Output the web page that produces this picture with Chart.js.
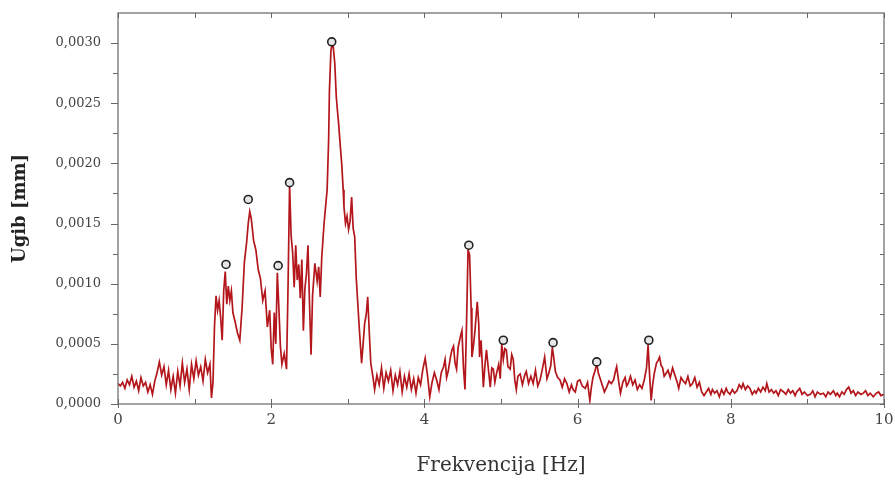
<!DOCTYPE html>
<html>
<head>
<meta charset="utf-8">
<script src="https://cdn.jsdelivr.net/npm/chart.js@4"></script>
<style>
  html, body { margin: 0; padding: 0; background: #fff; overflow: hidden; }
  canvas { display: block; }
</style>
</head>
<body>
<canvas id="js--chart" width="895" height="481"></canvas>
<script>
// frequency [Hz] and deflection (x 1e-4 mm)
const freqHz = [
  0.00,0.03,0.06,0.09,0.12,0.15,0.18,0.21,0.24,0.27,0.30,0.33,0.36,0.39,0.42,0.45,0.48,0.51,0.54,0.57,
  0.60,0.63,0.66,0.69,0.72,0.75,0.78,0.81,0.84,0.87,0.90,0.93,0.96,0.99,1.02,1.05,1.08,1.11,1.14,1.17,
  1.20,1.22,1.24,1.26,1.28,1.30,1.32,1.34,1.36,1.38,1.40,1.42,1.44,1.46,1.48,1.50,1.53,1.56,1.59,1.62,
  1.65,1.68,1.70,1.72,1.74,1.77,1.80,1.83,1.86,1.89,1.92,1.95,1.98,2.00,2.02,2.04,2.06,2.08,2.10,2.12,
  2.14,2.17,2.20,2.22,2.24,2.26,2.28,2.30,2.32,2.34,2.36,2.38,2.40,2.42,2.44,2.46,2.48,2.50,2.52,2.54,
  2.57,2.60,2.62,2.64,2.66,2.69,2.71,2.73,2.75,2.76,2.78,2.80,2.81,2.83,2.85,2.87,2.88,2.90,2.92,2.94,
  2.95,2.97,2.99,3.01,3.03,3.05,3.07,3.09,3.11,3.13,3.15,3.18,3.20,3.22,3.24,3.26,3.28,3.30,3.33,3.35,
  3.38,3.41,3.44,3.47,3.50,3.53,3.56,3.59,3.62,3.65,3.68,3.71,3.74,3.77,3.80,3.83,3.86,3.89,3.92,3.95,
  3.98,4.01,4.04,4.07,4.10,4.13,4.16,4.19,4.22,4.25,4.27,4.29,4.31,4.34,4.36,4.38,4.40,4.42,4.44,4.47,
  4.49,4.51,4.53,4.55,4.57,4.59,4.61,4.62,4.64,4.66,4.69,4.71,4.72,4.74,4.77,4.79,4.81,4.84,4.86,4.88,
  4.90,4.92,4.94,4.97,4.99,5.01,5.03,5.05,5.07,5.09,5.12,5.14,5.16,5.18,5.20,5.22,5.25,5.28,5.31,5.33,
  5.36,5.39,5.42,5.45,5.48,5.51,5.54,5.57,5.60,5.62,5.65,5.67,5.69,5.71,5.74,5.77,5.80,5.83,5.86,5.89,
  5.92,5.94,5.97,6.00,6.03,6.06,6.10,6.13,6.16,6.18,6.20,6.23,6.25,6.27,6.29,6.32,6.35,6.38,6.41,6.44,
  6.47,6.49,6.51,6.54,6.56,6.59,6.62,6.64,6.66,6.69,6.72,6.75,6.78,6.81,6.84,6.87,6.90,6.92,6.94,6.96,
  6.98,7.00,7.03,7.05,7.07,7.09,7.11,7.13,7.15,7.18,7.21,7.24,7.27,7.30,7.32,7.35,7.38,7.41,7.44,7.47,
  7.50,7.53,7.56,7.59,7.62,7.65,7.68,7.71,7.74,7.76,7.79,7.82,7.85,7.88,7.91,7.94,7.96,7.99,8.02,8.05,
  8.08,8.11,8.14,8.16,8.19,8.22,8.25,8.28,8.31,8.33,8.36,8.39,8.42,8.45,8.47,8.50,8.53,8.56,8.59,8.62,
  8.65,8.69,8.72,8.75,8.78,8.81,8.84,8.86,8.90,8.93,8.96,9.00,9.04,9.07,9.10,9.13,9.17,9.21,9.24,9.27,
  9.30,9.34,9.37,9.39,9.42,9.45,9.48,9.51,9.54,9.57,9.60,9.63,9.66,9.70,9.73,9.76,9.79,9.82,9.86,9.90,
  9.93,9.96,10.00
];
const ugibE4 = [
  1.7,1.5,1.8,1.3,2.0,1.6,2.3,1.4,1.9,1.1,2.2,1.5,1.8,1.0,1.6,0.8,1.9,2.6,3.5,2.4,
  3.1,1.6,2.8,1.2,2.3,0.9,2.7,1.5,3.4,1.8,2.9,1.2,3.3,2.1,3.6,2.4,3.1,1.9,3.7,2.6,
  3.3,0.5,1.8,6.5,9.0,7.8,8.6,7.2,5.3,9.4,11.0,8.3,9.8,8.6,9.4,7.6,6.8,5.9,5.3,8.0,
  11.8,13.5,15.0,16.0,15.4,13.6,12.8,11.2,10.4,8.6,9.4,6.4,7.8,4.6,3.3,7.6,5.0,10.9,8.0,4.8,
  3.3,4.2,2.9,9.8,18.2,14.0,12.6,9.7,13.2,10.3,11.6,8.8,12.0,6.1,9.6,10.8,13.2,8.4,4.1,9.0,
  11.7,10.2,11.4,8.9,12.2,15.0,16.4,17.8,22.0,26.0,29.4,30.0,29.7,28.3,25.5,24.0,23.3,21.6,20.0,17.8,
  16.4,15.0,15.6,14.5,15.2,17.2,14.6,13.9,10.5,8.4,6.3,3.4,5.0,6.7,7.4,8.9,6.0,3.4,2.2,1.2,
  2.4,1.6,3.0,1.3,2.6,1.9,2.8,1.1,2.4,1.6,2.7,1.0,2.3,1.4,2.5,1.2,2.1,0.9,2.2,1.6,
  2.9,3.8,2.4,0.6,1.8,2.6,2.0,1.2,2.6,3.1,3.7,2.2,2.7,3.9,4.5,4.8,3.4,2.9,4.7,5.6,
  6.1,3.0,1.2,6.7,12.8,12.4,8.0,3.9,4.8,6.1,8.5,6.6,3.9,5.3,1.4,3.2,4.5,2.6,1.4,3.0,
  2.9,1.8,2.5,3.3,2.1,5.0,3.7,4.6,4.5,3.1,2.9,4.1,3.7,2.0,1.2,2.3,2.5,1.6,2.4,2.7,
  1.7,2.3,1.7,2.8,1.5,2.0,2.9,3.9,2.1,2.5,3.2,4.7,3.8,2.7,2.2,2.0,1.4,2.1,1.7,1.0,
  1.6,1.2,1.0,1.9,2.0,1.5,1.3,1.8,0.3,1.4,2.2,2.8,3.4,2.6,2.2,1.6,1.0,1.4,1.9,1.7,
  2.0,2.6,3.1,1.7,0.9,1.8,2.2,1.5,1.7,2.3,1.6,2.0,1.2,1.6,1.3,2.0,3.0,4.9,2.4,0.3,
  1.6,2.5,3.4,3.6,3.9,3.2,3.0,2.3,2.5,2.8,2.2,3.0,2.4,1.8,1.3,2.2,1.9,1.7,2.3,1.5,
  1.7,2.2,1.4,1.8,1.0,0.7,1.0,1.3,0.8,1.2,0.9,1.1,0.6,1.2,0.8,1.3,1.0,0.8,1.2,0.9,
  1.1,1.6,1.3,1.7,1.2,1.5,1.3,0.8,1.1,0.9,1.3,1.0,1.4,1.1,1.7,1.0,1.2,0.9,1.1,0.7,
  1.2,1.0,0.8,1.2,0.9,1.1,0.7,1.0,1.3,0.8,1.0,0.7,0.8,1.1,0.6,1.0,0.8,0.9,0.6,1.0,
  0.8,1.1,0.7,0.9,0.6,1.0,0.8,1.2,1.4,0.9,1.1,0.7,1.0,0.8,0.9,1.1,0.7,0.9,0.6,0.9,
  1.0,0.7,0.8
];

// marked peaks (circles)
const peakHz = [1.41, 1.70, 2.09, 2.24, 2.79, 4.58, 5.03, 5.68, 6.25, 6.93];
const peakE4 = [11.6, 17.0, 11.5, 18.4, 30.1, 13.2, 5.3, 5.1, 3.5, 5.3];

const yTicks = [0, 0.0005, 0.001, 0.0015, 0.002, 0.0025, 0.003];
const xTicks = [0, 2, 4, 6, 8, 10];

const spectrum = freqHz.map((f, i) => ({ x: f, y: ugibE4[i] * 1e-4 }));
const peaks = peakHz.map((f, i) => ({ x: f, y: peakE4[i] * 1e-4 }));

// box round the plot with small tick marks, like the original graph
const frameTicks = {
  id: 'frameTicks',
  afterDatasetsDraw(chart) {
    const { ctx, chartArea: a, scales: { x, y } } = chart;
    ctx.save();
    ctx.strokeStyle = '#666';
    ctx.lineWidth = 1.2;
    ctx.strokeRect(a.left, a.top, a.right - a.left, a.bottom - a.top);
    ctx.lineWidth = 1;
    ctx.beginPath();
    for (let v = 0; v <= 0.00325; v += 0.00025) {
      const py = Math.round(y.getPixelForValue(v)) + 0.5;
      const major = Math.abs(v / 0.0005 - Math.round(v / 0.0005)) < 1e-6;
      ctx.moveTo(a.left, py); ctx.lineTo(a.left - (major ? 7 : 5), py);
      ctx.moveTo(a.right, py); ctx.lineTo(a.right - 4, py);
    }
    for (let v = 0; v <= 10; v += 1) {
      const px = Math.round(x.getPixelForValue(v)) + 0.5;
      const major = v % 2 === 0;
      ctx.moveTo(px, a.bottom + (major ? 4 : 0)); ctx.lineTo(px, a.bottom - 5);
      ctx.moveTo(px, a.top); ctx.lineTo(px, a.top + 5);
    }
    ctx.stroke();
    ctx.restore();
  }
};

// invisible tick marks used only as spacing between axis and labels
const hiddenGrid = len => ({
  display: true,
  drawOnChartArea: false,
  drawTicks: true,
  tickLength: len,
  tickColor: 'rgba(0,0,0,0)'
});

new Chart(document.getElementById('js--chart'), {
  type: 'line',
  data: {
    datasets: [
      {
        label: 'Ugib',
        data: spectrum,
        borderColor: '#b3161b',
        borderWidth: 1.7,
        pointRadius: 0,
        tension: 0,
        order: 2
      },
      {
        label: 'Vrhovi',
        data: peaks,
        showLine: false,
        pointStyle: 'circle',
        pointRadius: 4,
        pointBorderWidth: 1.6,
        pointBorderColor: '#222',
        pointBackgroundColor: '#e6e6e6',
        order: 1
      }
    ]
  },
  options: {
    responsive: false,
    animation: false,
    layout: { padding: { top: 13, right: 11, left: 0, bottom: 0 } },
    plugins: { legend: { display: false }, tooltip: { enabled: false } },
    scales: {
      x: {
        type: 'linear',
        min: 0,
        max: 10,
        afterFit: s => { s.height = 77; },
        afterBuildTicks: s => { s.ticks = xTicks.map(v => ({ value: v })); },
        grid: hiddenGrid(6),
        border: { display: false },
        ticks: { color: '#444', padding: 1, font: { family: 'DejaVu Serif', size: 15 } },
        title: {
          display: true,
          text: 'Frekvencija [Hz]',
          color: '#333',
          font: { family: 'DejaVu Serif', size: 20 },
          padding: { top: 0, bottom: 3 }
        }
      },
      y: {
        min: 0,
        max: 0.00325,
        afterFit: s => { s.width = 118; },
        afterBuildTicks: s => { s.ticks = yTicks.map(v => ({ value: v })); },
        grid: hiddenGrid(16),
        border: { display: false },
        ticks: {
          color: '#444',
          padding: 1,
          font: { family: 'DejaVu Serif', size: 13 },
          callback: v => v.toFixed(4).replace('.', ',')
        },
        title: {
          display: true,
          text: 'Ugib [mm]',
          color: '#222',
          font: { family: 'DejaVu Serif', size: 18, weight: 'bold' },
          padding: { top: 10, bottom: 0 }
        }
      }
    }
  },
  plugins: [frameTicks]
});
</script>
</body>
</html>
